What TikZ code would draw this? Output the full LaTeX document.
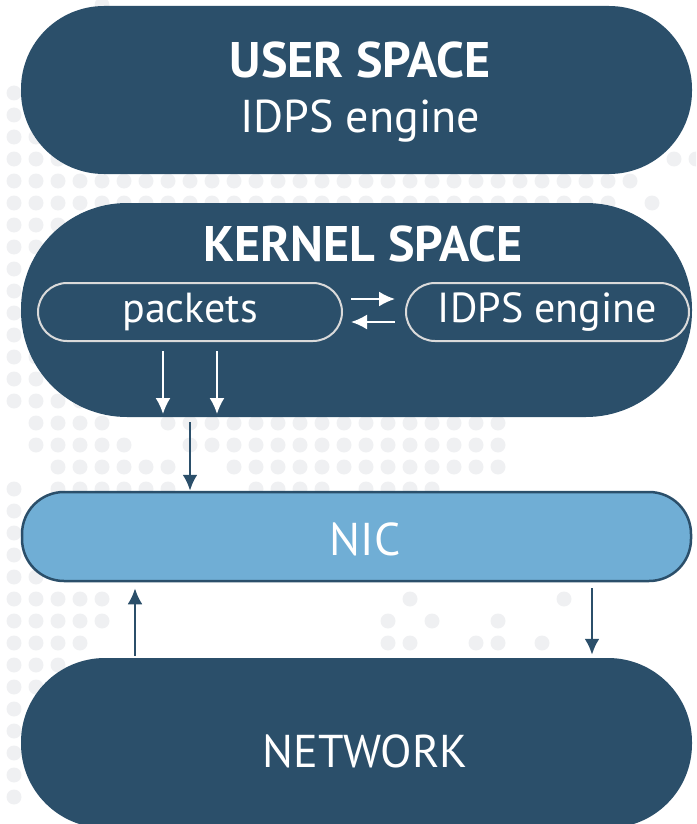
\documentclass[tikz,border=0pt]{standalone}
\usepackage{fontspec}
\setmainfont{PT Sans}
\usetikzlibrary{arrows.meta}

\definecolor{navy}{HTML}{2B4F6A}
\definecolor{nicblue}{HTML}{70AED5}
\definecolor{dotgray}{HTML}{EFF0F2}
\definecolor{pillgray}{HTML}{DADADA}

% one run of background dots: row y, from column, to column
\newcommand{\dotrun}[3]{\foreach \c in {#2,...,#3} \fill[dotgray] (14+22*\c,#1) circle (7.5pt);}

\begin{document}
\begin{tikzpicture}[
                            x=1pt, y=-1pt,
                            >={Latex[length=16pt,width=15pt]},
                            space/.style={rectangle, fill=navy, minimum width=671pt, inner sep=0pt},
                            title/.style={text=white, font=\bfseries\fontsize{50}{54}\selectfont, anchor=base},
                            label/.style={text=white, font=\fontsize{46}{50}\selectfont, anchor=base},
                            pill/.style={draw=pillgray, line width=2pt, rectangle, rounded corners=29pt, minimum height=58pt, text=white, font=\fontsize{42}{46}\selectfont, inner sep=0pt},
                            nic/.style={draw=navy, line width=2.5pt, fill=nicblue, rectangle, rounded corners=42pt, minimum width=669pt, minimum height=89pt},
                            flow/.style={->, navy, line width=2.7pt},
                            wflow/.style={->, white, line width=2pt}
                            ]

                            \useasboundingbox (0,0) rectangle (696,824);
                            \clip (0,0) rectangle (696,824);

                            % background dots
                            \dotrun{5}{4}{4}
                            \dotrun{93}{0}{0}
                            \dotrun{115}{0}{0}
                            \dotrun{137}{0}{1}
                            \dotrun{159}{0}{2} \dotrun{159}{30}{31}
                            \dotrun{181}{0}{28}
                            \dotrun{203}{0}{27} \dotrun{203}{29}{29}
                            \foreach \r in {225,247,...,401} {\dotrun{\r}{0}{4}}
                            \dotrun{423}{1}{4} \dotrun{423}{7}{22}
                            \dotrun{445}{1}{5} \dotrun{445}{8}{22}
                            \dotrun{467}{2}{7} \dotrun{467}{10}{22}
                            \dotrun{489}{0}{0} \dotrun{489}{2}{7} \dotrun{489}{11}{14} \dotrun{489}{16}{19}
                            \foreach \r in {511,533,555,577} {\dotrun{\r}{0}{1}}
                            \dotrun{599}{0}{4} \dotrun{599}{18}{18} \dotrun{599}{25}{25}
                            \dotrun{621}{0}{4} \dotrun{621}{17}{17} \dotrun{621}{19}{19} \dotrun{621}{22}{22}
                            \dotrun{643}{0}{3} \dotrun{643}{17}{18} \dotrun{643}{21}{22} \dotrun{643}{24}{24}
                            \dotrun{665}{0}{2}
                            \dotrun{687}{0}{1}
                            \foreach \r in {709,731,...,797} {\dotrun{\r}{0}{0}}

                            % layers
                            \node [space, rounded corners=83pt, minimum height=168pt] (user) at (356.5,90) {};
                            \node [space, rounded corners=106pt, minimum height=214pt, below of = user, node distance=220pt] (kernel) {};
                            \node [nic, below of = kernel, node distance=226.5pt] (nic) {};
                            \node [space, rounded corners=84pt, minimum height=170pt, below of = nic, node distance=206.5pt] (network) {};

                            \node [title] (usertitle) at (360,78) {USER SPACE};
                            \node [label] (userengine) at (360,132) {IDPS engine};
                            \node [title] (kerneltitle) at (363,261) {KERNEL SPACE};
                            \node [label] (nictext) at (365,555) {NIC};
                            \node [label] (networktext) at (365,767) {NETWORK};

                            \node [pill, minimum width=304pt] (packets) at (190,312) {packets};
                            \node [pill, minimum width=283pt, right of = packets, node distance=357.5pt] (engine) {IDPS engine};

                            \draw[wflow] ([xshift=8pt,yshift=13pt]packets.east) -- ([xshift=-10pt,yshift=13pt]engine.west);
                            \draw[wflow] ([xshift=-10pt,yshift=-10pt]engine.west) -- ([xshift=8pt,yshift=-10pt]packets.east);
                            \draw[wflow] ([xshift=-27pt,yshift=-9pt]packets.south) -- ([xshift=-27pt,yshift=-72pt]packets.south);
                            \draw[wflow] ([xshift=27pt,yshift=-9pt]packets.south) -- ([xshift=27pt,yshift=-72pt]packets.south);

                            \draw[flow] ([yshift=-5pt]kernel.south -| packets.south) -- (nic.north -| packets.south);
                            \draw[flow] ([xshift=-221.5pt,yshift=2pt]network.north) -- ([xshift=-221.5pt,yshift=-6pt]nic.south);
                            \draw[flow] ([xshift=235.5pt,yshift=-6pt]nic.south) -- ([xshift=235.5pt,yshift=3pt]network.north);
                        \end{tikzpicture}
\end{document}
